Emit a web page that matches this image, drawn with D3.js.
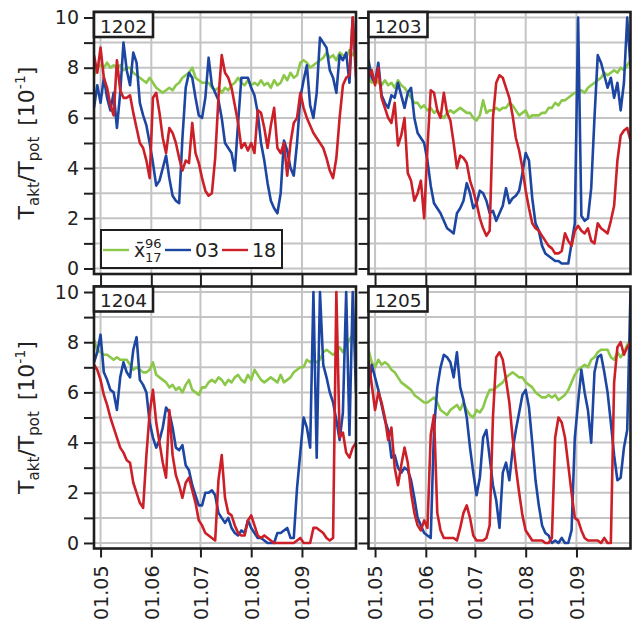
<!DOCTYPE html>
<html>
<head>
<meta charset="utf-8">
<script src="https://cdn.jsdelivr.net/npm/d3@7"></script>
<style>
  body { margin: 0; background: #fff; }
  svg { display: block; }
  text { font-family: "DejaVu Sans", sans-serif; fill: #222; }
</style>
</head>
<body>
<svg id="chart" width="633" height="626"></svg>
<script>
// Daily transpiration ratio T_akt/T_pot (in units of 10^-1), one value every second day
const firstDay = new Date(2015, 3, 27);
const stepDays = 2;
const axisStart = new Date(2015, 3, 27);
const axisEnd = new Date(2015, 9, 4);

const monthTickDates = [new Date(2015, 4, 1), new Date(2015, 5, 1), new Date(2015, 6, 1), new Date(2015, 7, 1), new Date(2015, 8, 1)];
const monthTickLabels = ["01.05", "01.06", "01.07", "01.08", "01.09"];
const yTickValues = [0, 1, 2, 3, 4, 5, 6, 7, 8, 9, 10];

const stations = ["1202", "1203", "1204", "1205"];
const seriesLabels = ["mean", "03", "18"];
const seriesColors = ["#8bc84a", "#1c46a2", "#cc1f27"];

// station 1202
const mean1202 = [7.7,8.0,8.1,8.0,8.2,8.0,8.1,8.0,8.1,7.9, 8.0,8.0,7.8,7.7,7.6,7.5,7.4,7.6,7.4,7.2,
  7.1,7.0,7.1,7.2,7.1,7.3,7.4,7.6,7.7,7.8, 8.0,7.6,7.5,7.4,7.4,7.4,7.2,7.1,7.2,7.0,
  7.2,7.1,7.3,7.4,7.6,7.4,7.3,7.5,7.3,7.4, 7.3,7.5,7.3,7.4,7.2,7.5,7.3,7.4,7.7,7.5,
  7.8,7.6,7.7,8.2,8.3,8.2,8.0,8.1,8.2,8.3, 8.4,8.6,8.4,8.5,8.3,8.6,8.5,8.4,8.7,8.5, 8.7];
const y03_1202 = [6.4,7.3,6.6,7.6,6.8,6.3,7.0,5.6,7.0,9.0, 7.9,7.3,8.6,8.2,6.6,6.1,5.7,5.0,4.2,3.3,
  3.5,4.0,4.5,3.6,2.9,2.7,2.6,5.2,7.2,7.8, 7.6,6.8,6.1,6.0,6.8,8.4,7.3,7.0,6.7,6.0,
  5.0,4.8,4.6,3.9,5.8,7.6,7.6,7.6,7.2,6.9, 6.2,5.0,4.3,3.4,2.7,2.4,2.2,3.0,5.1,4.7,
  4.0,3.7,5.0,6.8,7.5,8.1,6.5,6.0,7.0,9.2, 9.0,8.8,7.9,7.6,7.0,8.5,8.3,8.6,7.4,10.0, 8.0];
const y18_1202 = [8.5,7.8,8.8,7.6,7.2,6.5,6.1,8.3,7.1,6.8, 6.8,6.9,6.2,5.6,5.0,4.8,4.3,3.6,6.8,7.0,
  6.2,5.2,4.6,5.6,5.4,5.0,4.4,3.9,4.3,4.2, 5.8,4.6,4.2,3.6,3.1,2.9,3.0,4.4,6.8,8.5,
  7.8,7.6,7.2,6.5,5.8,4.8,5.0,4.7,5.0,4.6, 6.3,6.2,5.6,4.8,5.7,6.4,4.8,4.6,5.0,3.7,
  5.0,5.8,6.0,7.0,6.4,6.0,5.7,5.4,5.2,5.0, 4.8,4.4,3.9,3.6,4.4,6.0,7.3,7.6,7.7,10.0, 7.6];

// station 1203
const mean1203 = [7.6,7.4,7.6,7.4,7.3,7.5,7.3,7.4,7.2,7.5, 7.3,7.2,7.0,6.8,6.6,6.6,6.4,6.5,6.3,6.4,
  6.2,6.3,6.1,6.0,6.2,6.3,6.2,6.3,6.4,6.3, 6.2,6.2,6.0,5.9,6.1,6.7,6.2,6.3,6.3,6.4,
  6.3,6.4,6.4,6.6,6.5,6.3,6.1,6.2,6.3,6.0, 6.1,6.1,6.1,6.2,6.2,6.4,6.4,6.6,6.5,6.7,
  6.7,6.8,6.9,7.0,7.0,7.1,7.0,7.2,7.3,7.4, 7.5,7.6,7.8,7.7,7.8,7.9,7.8,8.0,7.9,8.1, 8.3];
const y03_1203 = [8.3,7.6,7.4,8.2,6.9,6.6,6.4,6.9,6.8,7.4, 6.9,6.4,7.0,7.2,6.0,5.4,5.2,5.0,4.3,3.3,
  2.6,2.4,2.2,1.9,1.6,1.5,1.4,2.2,2.4,2.7, 3.4,3.0,2.4,2.6,3.1,3.0,2.7,2.2,2.3,1.9,
  2.2,2.5,3.2,2.6,2.8,2.9,3.1,3.8,4.6,4.3, 2.8,1.8,1.5,0.9,0.6,0.5,0.4,0.3,0.3,0.2,
  0.2,0.2,1.0,1.8,10.0,2.1,1.9,2.0,3.2,6.0, 8.5,8.2,7.7,7.2,7.6,6.8,7.4,6.3,7.4,10.0, 8.0];
const y18_1203 = [7.6,7.9,7.3,8.0,6.8,6.4,6.0,5.8,6.6,4.9, 5.3,6.0,3.8,3.5,2.7,3.0,3.5,2.0,4.8,7.1,
  7.0,6.3,6.0,7.0,6.2,5.9,5.0,4.0,4.5,4.4, 4.2,3.5,3.1,2.6,2.0,1.6,1.3,1.5,6.0,7.4,
  7.7,7.6,7.2,6.8,6.1,5.2,4.7,4.0,3.1,2.4, 1.8,1.6,1.5,1.3,1.1,0.9,0.8,0.6,0.6,0.7,
  1.4,1.1,0.9,1.5,1.7,1.5,1.4,1.6,1.1,1.0, 1.8,1.6,1.5,1.4,1.9,2.5,4.3,5.3,5.5,5.6, 5.1];

// station 1204
const mean1204 = [8.1,7.7,7.6,7.5,7.5,7.4,7.3,7.4,7.3,7.3, 7.3,7.1,6.9,7.0,6.9,6.8,6.8,6.9,7.2,6.7,
  6.6,6.5,6.4,6.2,6.3,6.1,6.2,6.0,6.3,6.5, 6.1,6.0,5.9,6.2,6.2,6.4,6.5,6.4,6.6,6.5,
  6.3,6.5,6.4,6.6,6.7,6.5,6.4,6.7,6.5,6.9, 6.7,6.5,6.4,6.5,6.6,6.5,6.4,6.7,6.4,6.5,
  6.6,6.8,6.9,7.0,7.0,7.3,7.2,7.3,7.2,7.3, 7.6,7.7,7.6,7.5,7.6,7.8,7.6,7.9,8.1,8.3, 8.5];
const y03_1204 = [7.2,7.6,8.3,6.8,6.5,6.1,6.0,5.3,6.6,7.2, 6.8,6.6,7.7,8.2,6.5,6.3,6.0,4.8,4.2,3.8,
  4.1,4.6,5.4,5.2,4.6,3.8,3.7,3.9,3.1,2.9, 2.3,1.9,1.5,1.5,2.0,2.0,2.1,1.9,1.2,1.0,
  0.8,1.0,0.6,0.4,0.3,0.5,0.4,0.9,0.6,0.4, 0.2,0.2,0.1,0.0,0.0,0.0,0.4,0.4,0.5,0.6,
  0.2,0.2,2.2,3.6,5.0,4.6,3.8,10.0,3.4,10.0, 7.1,6.6,6.0,5.6,4.9,4.1,5.2,10.0,4.3,10.0, 6.0];
const y18_1204 = [7.1,6.9,6.5,5.9,5.5,5.0,4.6,4.2,3.8,3.6, 3.3,3.2,2.4,2.0,1.6,1.4,3.5,5.2,6.1,4.8,
  4.0,3.2,2.6,5.3,3.5,2.7,2.3,1.8,2.4,2.6, 2.1,1.6,0.9,0.7,0.4,0.3,0.2,0.1,2.5,3.5,
  1.8,1.2,1.1,0.7,0.4,0.3,0.3,0.9,1.1,0.7, 0.3,0.2,0.3,0.2,0.1,0.0,0.0,0.0,0.0,0.0,
  0.0,0.0,0.1,0.2,0.0,0.0,0.0,0.6,0.6,0.5, 0.4,0.2,0.1,0.2,10.0,4.2,4.4,3.6,3.4,3.8, 4.0];

// station 1205
const mean1205 = [7.7,7.2,7.0,7.3,7.1,7.2,7.1,6.9,6.8,6.6, 6.4,6.3,6.2,6.1,5.9,5.8,5.7,5.6,5.6,5.7,
  5.8,5.6,5.3,5.2,5.1,5.3,5.4,5.5,5.3,5.6, 5.3,5.1,5.0,5.3,5.2,5.4,5.8,6.1,6.1,6.2,
  6.3,6.4,6.6,6.7,6.8,6.7,6.6,6.6,6.4,6.3, 6.2,6.0,5.9,5.8,5.8,5.9,5.8,5.9,5.7,5.8,
  5.9,6.1,6.4,6.7,6.9,7.0,7.1,7.0,7.3,7.4, 7.6,7.7,7.7,7.7,7.4,7.3,7.6,7.4,7.6,7.9, 8.1];
const y03_1205 = [6.2,7.1,6.6,6.1,5.5,4.9,4.5,3.4,3.5,3.0, 2.8,3.0,2.9,2.5,1.8,1.0,0.7,0.4,0.3,0.2,
  4.5,6.2,7.0,7.5,7.4,7.2,6.6,7.6,6.2,5.7, 5.0,3.8,2.8,1.9,2.6,4.2,4.5,3.4,2.3,1.7,
  0.6,2.8,3.2,2.5,3.7,4.5,5.2,5.9,6.1,5.4, 4.0,2.5,1.5,0.7,0.4,0.3,0.0,0.1,0.0,0.2,
  0.0,0.0,0.5,4.2,5.6,6.9,6.0,5.3,4.0,6.8, 7.4,7.5,6.8,6.0,4.8,3.5,2.5,2.6,3.8,4.5, 10.0];
const y18_1205 = [7.3,6.3,5.3,6.0,5.6,5.0,4.1,4.6,3.0,2.3, 3.1,3.8,3.2,2.0,1.2,0.7,0.5,0.9,0.6,4.3,
  5.1,1.2,0.5,0.2,0.2,0.2,0.2,0.1,0.6,1.2, 1.5,1.0,0.3,0.1,0.1,0.1,0.2,0.7,5.0,7.4,
  7.6,7.3,6.5,5.6,4.2,3.0,2.0,1.1,0.5,0.3, 0.1,0.1,0.1,0.1,0.0,0.0,0.2,4.2,5.0,4.8,
  4.2,3.1,2.0,1.0,0.9,0.5,0.2,0.1,0.1,0.1, 0.1,0.0,0.2,0.0,0.0,6.4,7.8,8.0,7.5,7.8, 8.0];

const panelSeries = [
  [mean1202, y03_1202, y18_1202],
  [mean1203, y03_1203, y18_1203],
  [mean1204, y03_1204, y18_1204],
  [mean1205, y03_1205, y18_1205]
];

// ---- layout ----
const panelW = 262, panelH = 262;
const colX = [94, 368.5];
const rowY = [12, 286.5];
const frameColor = "#1e1e1e";

const svg = d3.select("#chart");

const x = d3.scaleTime().domain([axisStart, axisEnd]).range([0, panelW]);
const y = d3.scaleLinear().domain([-0.22, 10.22]).range([panelH, 0]);

const dayOf = k => d3.timeDay.offset(firstDay, k * stepDays);
const line = d3.line()
  .x((d, k) => x(dayOf(k)))
  .y(d => y(d));

svg.append("defs").append("clipPath").attr("id", "plotClip")
  .append("rect").attr("x", 0).attr("y", 0).attr("width", panelW).attr("height", panelH);

stations.forEach((station, i) => {
  const col = i % 2, row = Math.floor(i / 2);
  const g = svg.append("g").attr("transform", `translate(${colX[col]},${rowY[row]})`);

  // grid
  const grid = g.append("g").attr("stroke", "#c4c4c4").attr("stroke-width", 2);
  grid.selectAll("line.h").data(yTickValues).join("line")
    .attr("x1", 0).attr("x2", panelW)
    .attr("y1", d => y(d)).attr("y2", d => y(d));
  grid.selectAll("line.v").data(monthTickDates).join("line")
    .attr("y1", 0).attr("y2", panelH)
    .attr("x1", d => x(d)).attr("x2", d => x(d));

  // series
  const plot = g.append("g").attr("clip-path", "url(#plotClip)");
  panelSeries[i].forEach((vals, s) => {
    plot.append("path")
      .datum(vals)
      .attr("fill", "none")
      .attr("stroke", seriesColors[s])
      .attr("stroke-width", 2.6)
      .attr("stroke-linejoin", "round")
      .attr("d", line);
  });

  // frame
  g.append("rect").attr("x", 0).attr("y", 0).attr("width", panelW).attr("height", panelH)
    .attr("fill", "none").attr("stroke", frameColor).attr("stroke-width", 2.6);

  // y axis
  const yAxis = d3.axisLeft(y).tickValues(yTickValues).tickSize(10).tickPadding(5)
    .tickFormat(v => (col === 0 && v % 2 === 0) ? String(v) : "");
  const ya = g.append("g").call(yAxis);
  ya.select(".domain").remove();
  ya.selectAll(".tick line").attr("stroke", frameColor).attr("stroke-width", 2);
  ya.selectAll(".tick text").attr("font-size", 19).attr("fill", "#222")
    .attr("font-family", '"DejaVu Sans", sans-serif');

  // x axis
  const tickLen = row === 0 ? 12.5 : 9;
  const xAxis = d3.axisBottom(x).tickValues(monthTickDates).tickSize(tickLen)
    .tickFormat((d, j) => row === 1 ? monthTickLabels[j] : "");
  const xa = g.append("g").attr("transform", `translate(0,${panelH})`).call(xAxis);
  xa.select(".domain").remove();
  xa.selectAll(".tick line").attr("stroke", frameColor).attr("stroke-width", 2);
  xa.selectAll(".tick text")
    .attr("font-size", 19).attr("fill", "#222")
    .attr("font-family", '"DejaVu Sans", sans-serif')
    .attr("transform", "rotate(-90)")
    .attr("text-anchor", "end")
    .attr("x", -17)
    .attr("y", 0)
    .attr("dy", "0.36em");

  // station label box
  const lb = g.append("g");
  lb.append("rect").attr("x", 0).attr("y", 0).attr("width", 59).attr("height", 25)
    .attr("fill", "#fff").attr("stroke", frameColor).attr("stroke-width", 2.6);
  lb.append("text").attr("x", 6).attr("y", 20.5).attr("font-size", 18.5).text(station);

  // legend (first panel only)
  if (i === 0) {
    const lg = g.append("g").attr("transform", "translate(7,218)");
    lg.append("rect").attr("x", 0).attr("y", 0).attr("width", 181).attr("height", 38)
      .attr("fill", "#fff").attr("stroke", frameColor).attr("stroke-width", 2);
    const items = [
      { x: 2, label: null },
      { x: 64, label: "03" },
      { x: 121, label: "18" }
    ];
    items.forEach((it, s) => {
      lg.append("line").attr("x1", it.x).attr("x2", it.x + 26).attr("y1", 20).attr("y2", 20)
        .attr("stroke", seriesColors[s]).attr("stroke-width", 2.4);
      if (it.label) {
        lg.append("text").attr("x", it.x + 30).attr("y", 27).attr("font-size", 19).text(it.label);
      }
    });
    // x̄ with superscript 96 and subscript 17
    lg.append("text").attr("x", 33).attr("y", 27).attr("font-size", 19).text("x\u0304");
    lg.append("text").attr("x", 44).attr("y", 18).attr("font-size", 13).text("96");
    lg.append("text").attr("x", 44).attr("y", 32).attr("font-size", 13).text("17");
  }
});

// y axis titles
[0, 1].forEach(row => {
  const cy = rowY[row] + panelH / 2;
  const t = svg.append("text")
    .attr("transform", `translate(34,${cy}) rotate(-90)`)
    .attr("text-anchor", "middle")
    .attr("font-size", 22);
  t.append("tspan").text("T");
  t.append("tspan").attr("font-size", 15).attr("dy", 5).text("akt");
  t.append("tspan").attr("dy", -5).text("/");
  t.append("tspan").text("T");
  t.append("tspan").attr("font-size", 15).attr("dy", 5).text("pot");
  t.append("tspan").attr("dy", -5).text("\u2002[10");
  t.append("tspan").attr("font-size", 14).attr("dy", -9).text("-1");
  t.append("tspan").attr("dy", 9).text("]");
});
</script>
</body>
</html>
